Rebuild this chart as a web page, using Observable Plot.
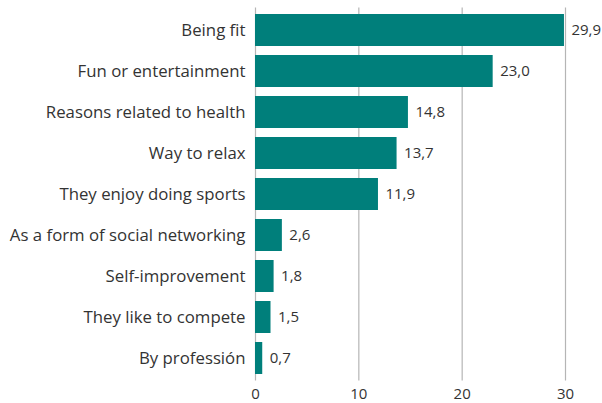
<!DOCTYPE html>
<html><head><meta charset="utf-8">
<script src="https://cdn.jsdelivr.net/npm/d3@7"></script>
<script src="https://cdn.jsdelivr.net/npm/@observablehq/plot@0.6"></script>
<style>
body{margin:0;background:#fff;}
#chart svg{font-family:"Open Sans",Lato,sans-serif;}
</style>
</head><body><div id="chart"></div>
<script>
const categories = ["Being fit","Fun or entertainment","Reasons related to health","Way to relax","They enjoy doing sports","As a form of social networking","Self-improvement","They like to compete","By professión"];
const values = [29.9,23.0,14.8,13.7,11.9,2.6,1.8,1.5,0.7];
const xTicks = [0,10,20,30];
const data = categories.map((c,i)=>({category:c, value:values[i]}));
const fmt = v => v.toFixed(1).replace(".", ",");
const chart = Plot.plot({
  width:602, height:403,
  marginLeft:255, marginRight:37, marginTop:2.5, marginBottom:17.5,
  style:{fontSize:"15px", color:"#333", background:"#fff"},
  x:{domain:[0,30], ticks:xTicks, label:null},
  y:{domain:categories, padding:0.23, label:null},
  marks:[
    Plot.gridX(xTicks,{stroke:"#b5b5b5", strokeOpacity:1, strokeWidth:1.2, insetTop:5, insetBottom:5}),
    Plot.barX(data,{x:"value", y:"category", fill:"#007f7b"}),
    Plot.text(data,{x:"value", y:"category", text:d=>fmt(d.value), textAnchor:"start", dx:7, fontSize:15, fill:"#333"}),
    Plot.axisX(xTicks,{tickSize:0, tickPadding:2, fontSize:15, fill:"#333", tickFormat:d=>d, label:null}),
    Plot.axisY({tickSize:0, tickPadding:10, fontSize:16.8, fill:"#333", label:null})
  ]
});
document.getElementById("chart").appendChild(chart);
</script></body></html>
